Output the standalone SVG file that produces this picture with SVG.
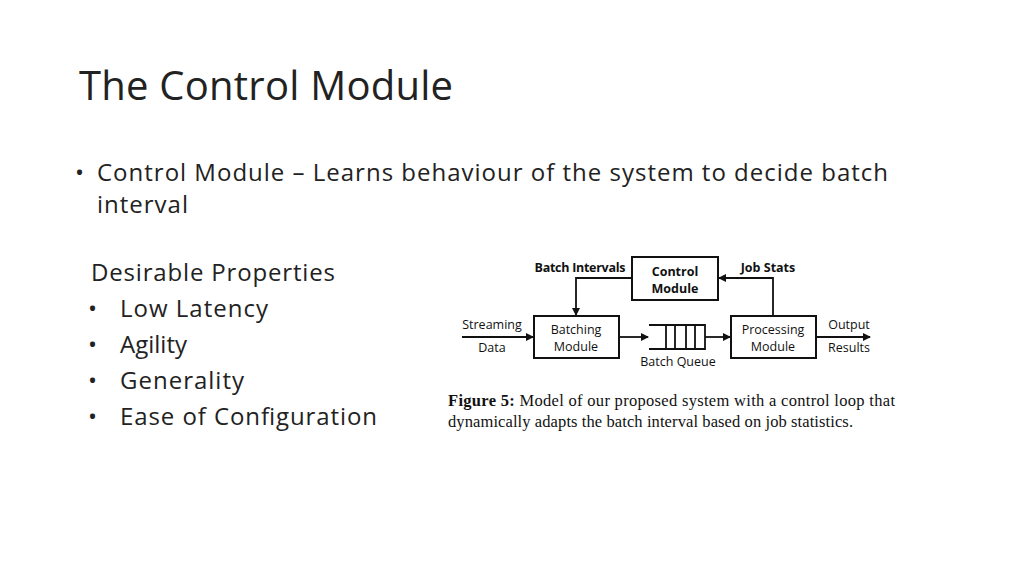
<svg xmlns="http://www.w3.org/2000/svg" width="1024" height="576" viewBox="0 0 1024 576">
<style>
.t{font-family:"Open Sans","Liberation Sans",sans-serif;fill:#222}
.f{font-family:"Open Sans","Liberation Sans",sans-serif;font-size:12.5px;fill:#111;text-anchor:middle}
.b{font-weight:bold}
.box{fill:#fff;stroke:#111;stroke-width:2}
.ln{stroke:#111;stroke-width:1.8;fill:none}
.c{font-family:"Liberation Serif",serif;font-size:16.5px;fill:#111}
</style>
<defs><marker id="a" markerWidth="8" markerHeight="8" refX="7" refY="4" orient="auto" markerUnits="userSpaceOnUse"><path d="M0,0L8,4L0,8z" fill="#111"/></marker></defs>
<rect width="1024" height="576" fill="#fff"/>
<text class="t" x="79" y="100" font-size="40" textLength="374">The Control Module</text>
<text class="t" x="75" y="181" font-size="24">•</text>
<text class="t" x="97" y="181" font-size="24" textLength="791">Control Module – Learns behaviour of the system to decide batch</text>
<text class="t" x="97" y="213" font-size="24" textLength="91">interval</text>
<text class="t" x="91" y="281" font-size="24" textLength="244">Desirable Properties</text>
<g font-size="24">
<text class="t" x="88" y="317">•</text><text class="t" x="120" y="317" textLength="148">Low Latency</text>
<text class="t" x="88" y="353">•</text><text class="t" x="120" y="353">Agility</text>
<text class="t" x="88" y="389">•</text><text class="t" x="120" y="389" textLength="124">Generality</text>
<text class="t" x="88" y="425">•</text><text class="t" x="120" y="425" textLength="257">Ease of Configuration</text>
</g>
<g id="connectors">
<path class="ln" d="M462,337H533" marker-end="url(#a)"/>
<path class="ln" d="M619,337H648" marker-end="url(#a)"/>
<path class="ln" d="M705,337H730" marker-end="url(#a)"/>
<path class="ln" d="M816,337H870" marker-end="url(#a)"/>
<path class="ln" d="M632,278H576V315" marker-end="url(#a)"/>
<path class="ln" d="M773,316V278H719" marker-end="url(#a)"/>
</g>
<g id="control"><rect class="box" x="632" y="257" width="86" height="43"/>
<text class="f b" x="675" y="276">Control</text><text class="f b" x="675" y="293">Module</text></g>
<g id="batching"><rect class="box" x="534" y="316" width="85" height="42"/>
<text class="f" x="576" y="334">Batching</text><text class="f" x="576" y="351">Module</text></g>
<g id="processing"><rect class="box" x="731" y="316" width="85" height="42"/>
<text class="f" x="773" y="334">Processing</text><text class="f" x="773" y="351">Module</text></g>
<g id="queue"><path class="ln" d="M649,325H705V349H649M666,325V349M675,325V349M686,325V349M695,325V349"/>
<text class="f" x="678" y="366">Batch Queue</text></g>
<text class="f b" x="580" y="272" textLength="91">Batch Intervals</text>
<text class="f b" x="768" y="272">Job Stats</text>
<text class="f" x="492" y="329">Streaming</text><text class="f" x="492" y="352">Data</text>
<text class="f" x="849" y="329">Output</text><text class="f" x="849" y="352">Results</text>
<text class="c" x="448" y="406" textLength="447"><tspan font-weight="bold">Figure 5:</tspan> Model of our proposed system with a control loop that</text>
<text class="c" x="448" y="427" textLength="405">dynamically adapts the batch interval based on job statistics.</text>
</svg>
